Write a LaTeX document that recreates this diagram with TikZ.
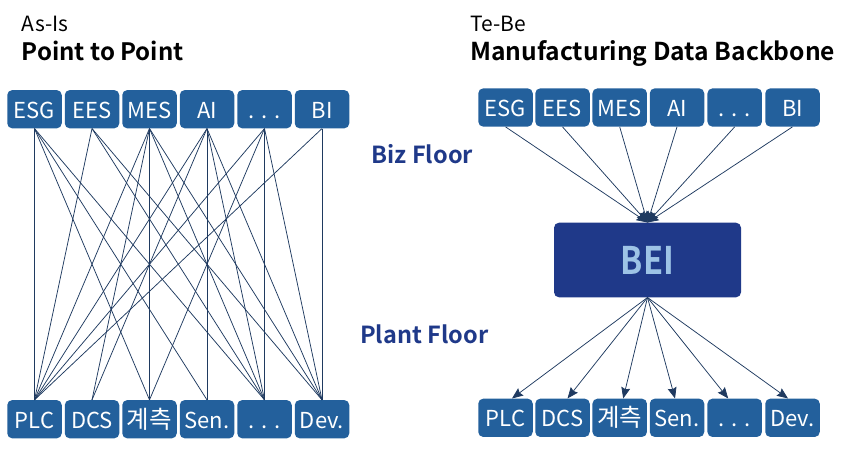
\documentclass[tikz,border=0pt]{standalone}
\usepackage{fontspec}
\usepackage{graphicx}
\setmainfont{Noto Sans CJK KR}[BoldFont={Noto Sans CJK KR Bold}]
\usetikzlibrary{arrows.meta}
\definecolor{boxblue}{RGB}{35,96,156}
\definecolor{beiblue}{RGB}{31,57,137}
\definecolor{linenavy}{RGB}{31,58,96}
\definecolor{beitext}{RGB}{157,195,230}
\definecolor{floornavy}{RGB}{31,57,137}
\newcommand{\kor}[1]{{\fontsize{24.5}{24.5}\selectfont #1}}
\begin{document}
\begin{tikzpicture}[x=1pt,y=-1pt,
  sysbox/.style={fill=boxblue, rounded corners=5pt, minimum width=54.5pt, minimum height=38.3pt, inner sep=0pt,
                 text height=18pt, text depth=0pt, text=white, font=\fontsize{22}{22}\selectfont},
  link/.style={draw=linenavy, line width=0.75pt},
  arr/.style={link, -{Stealth[length=11pt,width=9pt,inset=1.5pt]}},
  title/.style={anchor=base west, inner sep=0pt, font=\fontsize{21}{21}\selectfont},
  bigtitle/.style={anchor=base west, inner sep=0pt, font=\bfseries\fontsize{24}{24}\selectfont},
  floor/.style={anchor=base west, inner sep=0pt, text=floornavy, font=\bfseries\fontsize{23.5}{23.5}\selectfont}
  ]
\useasboundingbox (0,0) rectangle (850,448);

% titles
\node[title] (asis) at (21.5,31.5) {As-Is};
\node[bigtitle] (p2p) at (21.5,60) {Point to Point};
\node[title] (tobe) at (470,31.5) {Te-Be};
\node[bigtitle, font=\bfseries\fontsize{24.6}{24.6}\selectfont] (mdb) at (470,60) {Manufacturing Data Backbone};
\node[floor] (biz) at (371.5,163.3) {Biz Floor};
\node[floor] (plant) at (360,343.3) {Plant Floor};

% left top boxes
\node[sysbox] (lt1) at (34.5,109.2) {ESG};
\node[sysbox] (lt2) at (92,109.2) {EES};
\node[sysbox] (lt3) at (149.5,109.2) {MES};
\node[sysbox] (lt4) at (207,109.2) {AI};
\node[sysbox] (lt5) at (264.5,109.2) {. . .};
\node[sysbox] (lt6) at (322,109.2) {BI};
% left bottom boxes
\node[sysbox] (lb1) at (34.5,419.2) {PLC};
\node[sysbox] (lb2) at (92,419.2) {DCS};
\node[sysbox] (lb3) at (149.5,419.2) {\kor{계측}};
\node[sysbox] (lb4) at (207,419.2) {Sen.};
\node[sysbox] (lb5) at (264.5,419.2) {. . .};
\node[sysbox] (lb6) at (322,419.2) {Dev.};

% point to point links
\foreach \a/\b in {1/1,1/3,1/4,1/5, 2/1,2/5,2/6, 3/1,3/2,3/3,3/5,3/6,
                   4/1,4/2,4/4,4/5,4/6, 5/1,5/3,5/5,5/6, 6/1,6/6}
  \draw[link] (lt\a.south) -- (lb\b.north);

% right top boxes
\node[sysbox] (rt1) at (505.5,107.5) {ESG};
\node[sysbox] (rt2) at (562.5,107.5) {EES};
\node[sysbox] (rt3) at (619.7,107.5) {MES};
\node[sysbox] (rt4) at (677,107.5) {AI};
\node[sysbox] (rt5) at (734.7,107.5) {. . .};
\node[sysbox] (rt6) at (792.5,107.5) {BI};
% right bottom boxes
\node[sysbox] (rb1) at (505.5,417.8) {PLC};
\node[sysbox] (rb2) at (562.5,417.8) {DCS};
\node[sysbox] (rb3) at (619.7,417.8) {\kor{계측}};
\node[sysbox] (rb4) at (677,417.8) {Sen.};
\node[sysbox] (rb5) at (734.7,417.8) {. . .};
\node[sysbox] (rb6) at (792.5,417.8) {Dev.};

% BEI
\node[fill=beiblue, rounded corners=5pt, minimum width=187pt, minimum height=74.6pt, inner sep=0pt,
      text=beitext, font=\bfseries\fontsize{38}{38}\selectfont] (bei) at (647.5,260) {\scalebox{0.86}[1]{BEI}};

\foreach \i in {1,...,6}
  \draw[arr] (rt\i.south) -- (bei.north);
\foreach \i/\s in {1/6.5,2/5,3/3.5,4/-2,5/-6.5,6/-4.5}
  \draw[arr] (bei.south) -- ([xshift=\s pt]rb\i.north);
\end{tikzpicture}
\end{document}
